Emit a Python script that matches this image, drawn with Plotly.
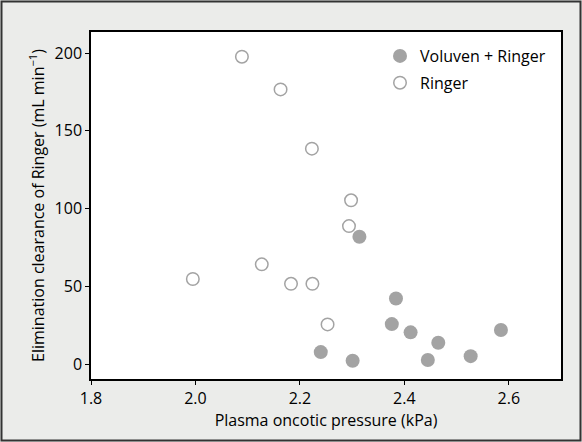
import plotly.graph_objects as go

# Data
ringer_x = [2.089, 2.163, 2.223, 2.298, 2.294, 2.127, 1.995, 2.183, 2.224, 2.253]
ringer_y = [197.6, 176.6, 138.5, 105.3, 88.7, 64.1, 54.7, 51.6, 51.6, 25.5]
voluven_x = [2.314, 2.384, 2.376, 2.412, 2.465, 2.585, 2.527, 2.445, 2.301, 2.240]
voluven_y = [81.9, 42.2, 25.7, 20.4, 13.7, 21.9, 5.1, 2.6, 2.1, 7.7]
x_ticks = [1.8, 2.0, 2.2, 2.4, 2.6]
x_ticklabels = ["1.8", "2.0", "2.2", "2.4", "2.6"]
y_ticks = [0, 50, 100, 150, 200]

W, H = 582, 442
ML, MR, MT, MB = 91, 21, 32, 63
FONT = "Open Sans"
GRAY = "#a3a3a3"

fig = go.Figure()
fig.add_trace(go.Scatter(
    x=voluven_x, y=voluven_y, mode="markers", name="Voluven + Ringer",
    legendgroup="a",
    marker=dict(size=14, color=GRAY, line=dict(width=0)),
))
fig.add_trace(go.Scatter(
    x=ringer_x, y=ringer_y, mode="markers", name="Ringer",
    legendgroup="b",
    marker=dict(size=12.5, color="white", line=dict(width=1.5, color=GRAY)),
))

pw = W - ML - MR
ph = H - MT - MB
# outer border in paper coords
x0 = (1.5 - ML) / pw
x1 = (W - 1.5 - ML) / pw
y1 = 1 + (MT - 1.5) / ph
y0 = -(MB - 1.5) / ph
fig.add_shape(type="rect", xref="paper", yref="paper", x0=x0, x1=x1, y0=y0, y1=y1,
              line=dict(color="#333333", width=2), layer="below")

axis_common = dict(
    showgrid=False, zeroline=False, showline=True, linecolor="black", linewidth=1.5,
    mirror=True, ticks="outside", ticklen=4, tickwidth=1, tickcolor="black",
    tickfont=dict(family=FONT, size=16, color="black"),
)
fig.update_xaxes(range=[1.8, 2.7], tickvals=x_ticks, ticktext=x_ticklabels,
                 title=dict(text="Plasma oncotic pressure (kPa)", standoff=2,
                            font=dict(family=FONT, size=16, color="black")),
                 **axis_common)
fig.update_yaxes(range=[-9.6, 213.5], tickvals=y_ticks,
                 title=dict(text="Elimination clearance of Ringer (mL min<sup>\u22121</sup>)", standoff=6,
                            font=dict(family=FONT, size=16, color="black")),
                 **axis_common)

fig.update_layout(
    width=W, height=H,
    margin=dict(l=ML, r=MR, t=MT, b=MB),
    paper_bgcolor="#ebecea", plot_bgcolor="white",
    font=dict(family=FONT, size=15, color="black"),
    legend=dict(x=(380 - ML) / pw, y=1 - (39 - MT) / ph, xanchor="left", yanchor="top",
                bgcolor="rgba(0,0,0,0)", tracegroupgap=3,
                font=dict(family=FONT, size=16, color="black")),
    showlegend=True,
)

fig.write_html("out.html", config={"displayModeBar": False},
               post_script="document.body.style.margin='0';document.body.style.padding='0';")
